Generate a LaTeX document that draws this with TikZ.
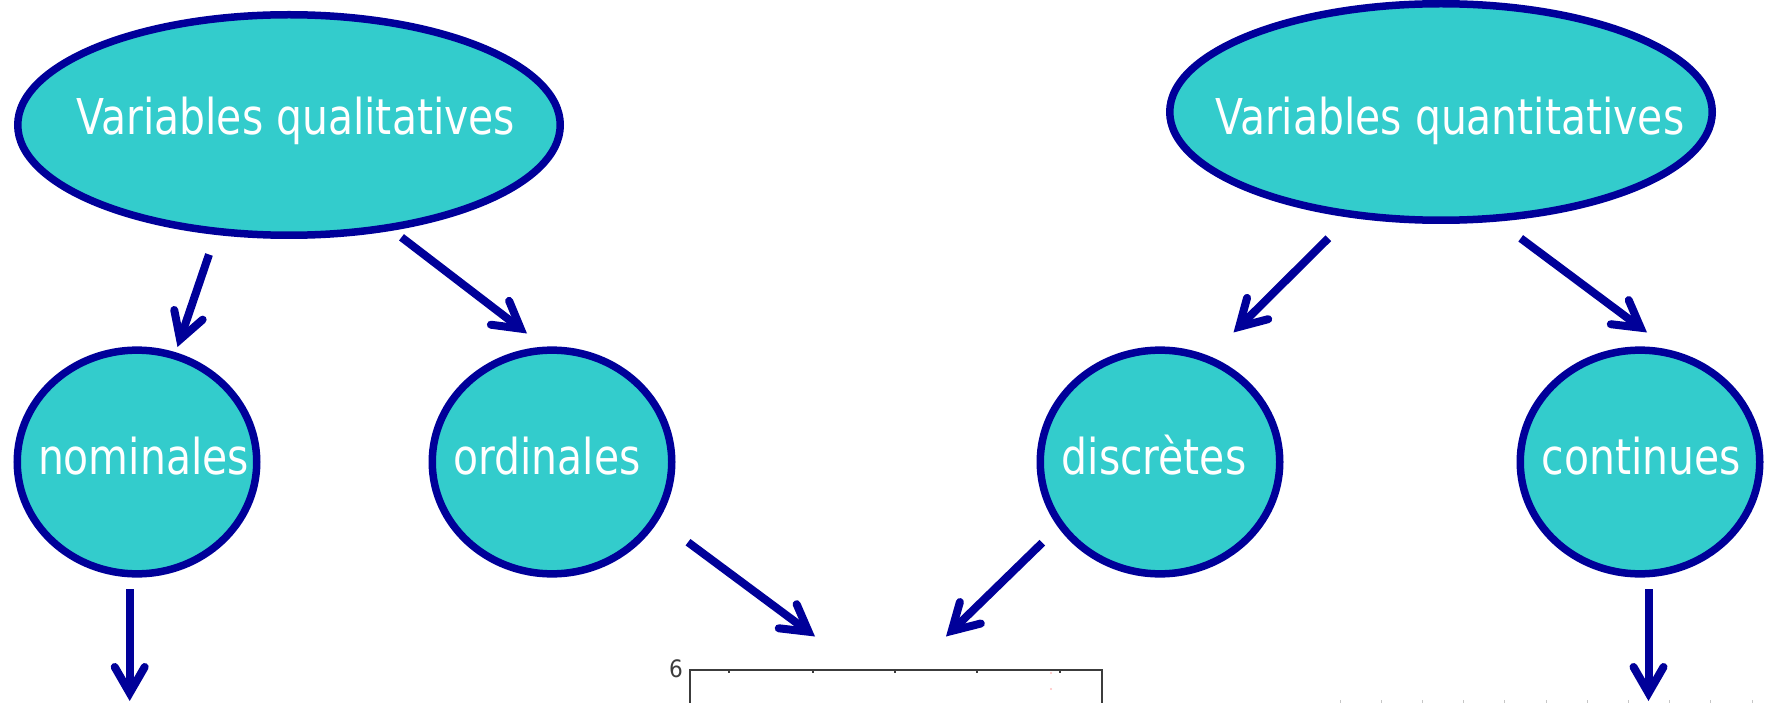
\documentclass[tikz,border=0pt]{standalone}
\usepackage{fontspec}
\usepackage{graphicx}
\setmainfont{DejaVu Sans Condensed}
\usetikzlibrary{shapes.geometric,arrows.meta,calc}

\definecolor{bubblefill}{RGB}{51,204,204}
\definecolor{navy}{RGB}{0,0,153}
\definecolor{axisgray}{RGB}{60,60,60}

% centred label whose ink may be nudged sideways by half of #1
\newcommand\ctext[2]{\makebox[0pt]{\hspace*{#1}\scalebox{0.92}[1]{#2}}}

\begin{document}
\begin{tikzpicture}[x=1pt,y=-1pt,
  bubble/.style={ellipse, draw=navy, fill=bubblefill, line width=7.5pt,
    inner sep=0pt, text=white, font=\fontsize{49.4}{59}\selectfont},
  bigbubble/.style={bubble, minimum width=542.5pt, minimum height=220.5pt},
  smallbubble/.style={bubble, minimum width=239.5pt, minimum height=223.7pt,
    text height=40pt, text depth=16pt},
  link/.style={navy, line width=8pt,
    -{Straight Barb[length=26pt,width=30pt,line cap=round,line join=miter]}},
  tick/.style={axisgray, line width=1.2pt},
]
\useasboundingbox (0,0) rectangle (1769,703);
\clip (0,0) rectangle (1769,703);

% top level: the two families of variables
\node[bigbubble, text height=36pt, text depth=16pt] (qual) at (289,125)
  {\ctext{14pt}{Variables qualitatives}};
\node[bigbubble, minimum height=216.5pt, text height=52pt, text depth=6pt] (quant) at (1441,112)
  {\ctext{18pt}{Variables quantitatives}};

% second level: the four kinds
\node[smallbubble] (nom)  at (137,462)  {\ctext{13pt}{nominales}};
\node[smallbubble] (ord)  at (552,462)  {\ctext{-10pt}{ordinales}};
\node[smallbubble] (dis)  at (1160,462) {\ctext{-12pt}{discrètes}};
\node[smallbubble] (cont) at (1640,462) {\ctext{3pt}{continues}};

% chart frame at the bottom
\node[draw=axisgray, line width=1.5pt, minimum width=412pt, minimum height=200pt,
  anchor=north west, inner sep=0pt] (chart) at (689,669) {};
\foreach \dx in {40,124,206,288,371}
  \draw[tick] ([xshift=\dx pt]chart.north west) -- ++(0,4);
\node[anchor=east, inner sep=0pt, text=axisgray, font=\fontsize{24}{24}\selectfont]
  (ymax) at ([xshift=-6pt]chart.north west) {6};
\fill[red!25] ([xshift=362pt,yshift=-4pt]chart.north west) circle (1.2);
\fill[red!25] ([xshift=362pt,yshift=-20pt]chart.north west) circle (1.2);

% faint axis ticks at the lower right
\coordinate (axisright) at (1340,703);
\foreach \k in {0,...,10}
  \draw[gray!45, line width=1pt] ([xshift=41.2*\k pt]axisright) -- ++(0,-3);

% connectors
\draw[link] ([shift={(-80,129.5)}]qual.center)  -- ([shift={(40.5,-115)}]nom.center);
\draw[link] ([shift={(112.5,112.3)}]qual.center) -- ([shift={(-25,-128.5)}]ord.center);
\draw[link] ([shift={(-112.7,126.3)}]quant.center) -- ([shift={(73.5,-129.5)}]dis.center);
\draw[link] ([shift={(79.7,126.3)}]quant.center) -- ([shift={(7,-129.5)}]cont.center);
\draw[link] ([shift={(-7.3,127)}]nom.center) -- ([shift={(-7.3,239)}]nom.center);
\draw[link] ([shift={(8.5,127)}]cont.center) -- ([shift={(8.5,239)}]cont.center);
\draw[link] ([shift={(136,80.2)}]ord.center) -- ([shift={(126,-32.5)}]chart.north west);
\draw[link] ([shift={(-117.7,80.7)}]dis.center) -- ([shift={(257,-32.5)}]chart.north west);
\end{tikzpicture}
\end{document}
